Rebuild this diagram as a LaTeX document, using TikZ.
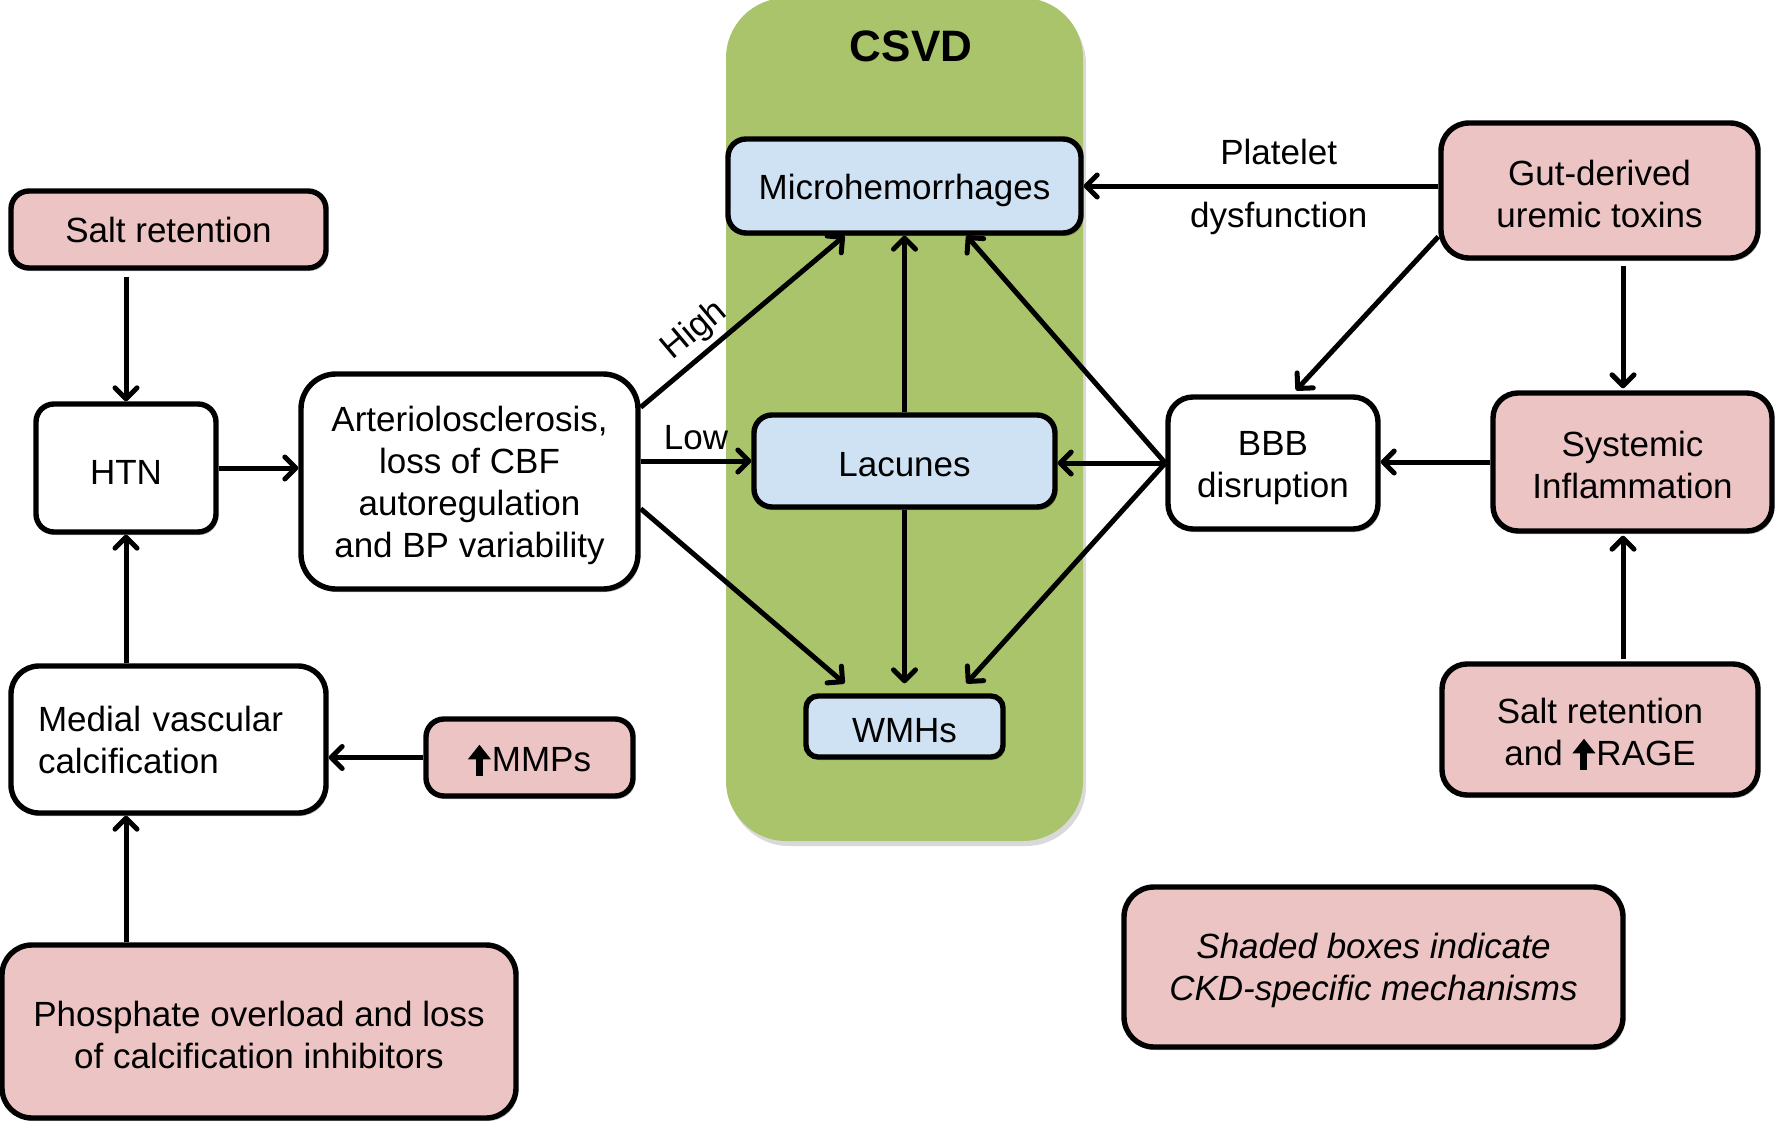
\documentclass[tikz,border=0pt]{standalone}
\usepackage{fontspec}
\setmainfont{Liberation Sans}
\usetikzlibrary{arrows.meta,calc,shadows}
\definecolor{pinkbox}{RGB}{236,196,196}
\definecolor{bluebox}{RGB}{207,226,243}
\definecolor{csvdgreen}{RGB}{170,196,108}
\newcommand{\ckdup}{\tikz[x=1pt,y=1pt,baseline=4.5pt,sharp corners]{\fill[black] (-3.5,0) rectangle (3.5,18); \fill[black] (-11.5,16.5) -- (0,31) -- (11.5,16.5) -- cycle;}}
\newcommand{\tstr}{\rule{0pt}{32pt}}
\begin{document}
\begin{tikzpicture}[x=1pt,y=-1pt,
  box/.style={draw=black, line width=5.4pt, rounded corners=18pt, inner sep=0pt, align=center, font=\fontsize{35}{42}\selectfont,
    drop shadow={shadow xshift=2pt, shadow yshift=-3pt, opacity=0.25, fill=black}},
  ckd/.style={box, fill=pinkbox},
  csvdbox/.style={box, fill=bluebox},
  plain/.style={box, fill=white},
  conn/.style={line width=5pt, -{Straight Barb[length=11pt,width=22pt,round]}},
  lbl/.style={font=\fontsize{35}{42}\selectfont, inner sep=2pt}
]
\useasboundingbox (0,0) rectangle (1775,1121);
\fill[white] (0,0) rectangle (1775,1121);
% CSVD region
\fill[black!15, rounded corners=60pt] (729,4) rectangle (1086,846);
\fill[csvdgreen, rounded corners=60pt] (726,-2) rectangle (1083,841);
\node[font=\fontsize{44}{50}\selectfont\bfseries] (csvd) at (911,46) {CSVD};

\node[csvdbox, minimum width=353pt, minimum height=94pt] (micro) at (904.5,186) {\rule{0pt}{34pt}Microhemorrhages};
\node[csvdbox, minimum width=301pt, minimum height=92pt] (lac) at (904.5,461) {\tstr Lacunes};
\node[csvdbox, minimum width=197pt, minimum height=61pt, rounded corners=12pt] (wmh) at (904.5,726.5) {\tstr WMHs};

\node[ckd, minimum width=315pt, minimum height=77pt] (saltL) at (168.5,229.5) {Salt retention};
\node[plain, minimum width=180pt, minimum height=128pt] (htn) at (126,468) {\tstr HTN};
\node[plain, minimum width=337pt, minimum height=215pt, rounded corners=35pt] (art) at (469.5,481.5) {\rule{0pt}{34pt}Arteriolosclerosis,\\loss of CBF\\autoregulation\\and BP variability};
\node[plain, minimum width=315pt, minimum height=147pt, text width=261pt, align=left, rounded corners=28pt] (medial) at (168.5,739.5) {Medial vascular\\calcification};
\node[ckd, minimum width=207pt, minimum height=77pt] (mmp) at (529.5,757.5) {\tstr\ckdup\hspace{1pt}MMPs};
\node[ckd, minimum width=514pt, minimum height=173pt, rounded corners=30pt] (phos) at (259,1031.5) {\tstr Phosphate overload and loss\\of calcification inhibitors};

\node[ckd, minimum width=317pt, minimum height=135pt, rounded corners=28pt] (gut) at (1599.5,190.5) {\tstr Gut-derived\\uremic toxins};
\node[plain, minimum width=210pt, minimum height=132pt, rounded corners=25pt] (bbb) at (1273,463) {\rule{0pt}{34pt}BBB\\disruption};
\node[ckd, minimum width=279pt, minimum height=138pt, rounded corners=25pt] (sys) at (1632.5,462) {\tstr Systemic\\Inflammation};
\node[ckd, minimum width=316pt, minimum height=131pt, rounded corners=25pt] (rage) at (1600,729.5) {\rule{0pt}{34pt}Salt retention\\and \ckdup\hspace{1pt}RAGE};
\node[ckd, minimum width=499pt, minimum height=160pt, rounded corners=30pt, font=\fontsize{35}{42}\selectfont\itshape] (legend) at (1373.5,967) {\rule{0pt}{33pt}Shaded boxes indicate\\CKD-specific mechanisms};

% connectors left
\draw[conn] ($(saltL.south -| htn.north)+(0,6)$) -- (htn.north);
\draw[conn] (medial.north -| htn.south) -- (htn.south);
\draw[conn] (phos.north -| htn.south) -- (medial.south -| htn.south);
\draw[conn] (mmp.west) -- (mmp.west -| medial.east);
\draw[conn] (htn.east) -- (htn.east -| art.west);
\draw[conn] ($(art.north east)+(0,36)$) -- ($(micro.south)+(-60,0)$) node[pos=0.34, above=3pt, sloped, lbl] {High};
\draw[conn] (art.east |- lac.west) -- (lac.west) node[midway, above=7pt, lbl] {Low};
\draw[conn] ($(art.south east)+(0,-83)$) -- ($(wmh.north)+(-60,-10)$);
% inside CSVD
\draw[conn] (lac.north) -- (micro.south);
\draw[conn] (lac.south) -- ($(wmh.north)+(0,-10)$);
% right
\draw[conn] (bbb.west) -- ($(micro.south)+(62,0)$);
\draw[conn] (bbb.west) -- (bbb.west -| lac.east);
\draw[conn] (bbb.west) -- ($(wmh.north)+(62,-10)$);
\draw[conn] (gut.west |- micro.east) -- (micro.east)
  node[pos=0.45, above=17pt, lbl] {Platelet}
  node[pos=0.45, below=12pt, lbl] {dysfunction};
\draw[conn] ($(gut.south west)+(0,-24)$) -- ($(bbb.north)+(23,-4)$);
\draw[conn] ($(gut.south)+(23.5,5)$) -- ($(sys.north)+(-9.5,-2)$);
\draw[conn] (sys.west) -- (sys.west -| bbb.east);
\draw[conn] ($(rage.north)+(23,-2)$) -- ($(sys.south)+(-9.5,2)$);
\end{tikzpicture}
\end{document}
